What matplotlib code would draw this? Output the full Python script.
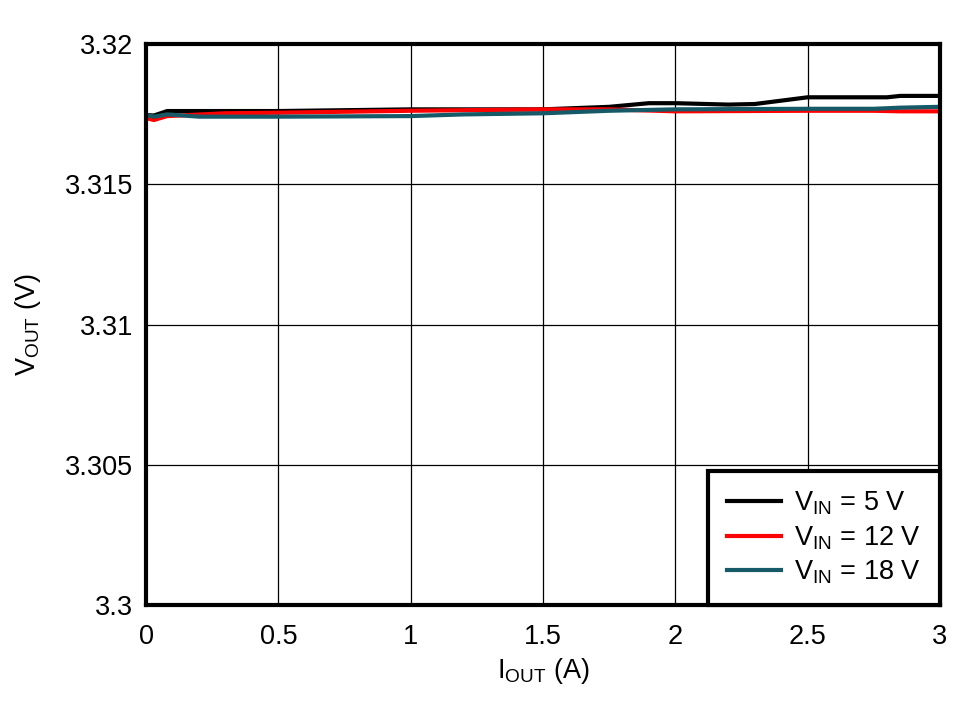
import numpy as np
import matplotlib
matplotlib.use("Agg")
import matplotlib.pyplot as plt

plt.rcParams['font.family'] = ['Liberation Sans', 'DejaVu Sans']
plt.rcParams['mathtext.fontset'] = 'custom'
plt.rcParams['mathtext.rm'] = 'Liberation Sans'
plt.rcParams['mathtext.it'] = 'Liberation Sans'

# output current (A) and output voltage (V)
i_5v = [0, 0.03, 0.08, 0.5, 1.0, 1.5, 1.75, 1.9, 2.0, 2.2, 2.3, 2.5, 2.8, 2.85, 3.0]
v_5v = [3.31747, 3.31745, 3.31761, 3.31761, 3.31767, 3.31767, 3.31776, 3.31789, 3.31789,
        3.31784, 3.31786, 3.31810, 3.31810, 3.31815, 3.31815]

i_12v = [0, 0.03, 0.08, 0.3, 0.5, 1.0, 1.5, 1.75, 2.0, 2.5, 2.75, 2.85, 3.0]
v_12v = [3.31736, 3.31729, 3.31743, 3.31753, 3.31755, 3.31762, 3.31767, 3.31767, 3.31760,
         3.31762, 3.31762, 3.31760, 3.31760]

i_18v = [0, 0.03, 0.08, 0.2, 0.5, 1.0, 1.2, 1.5, 1.75, 2.0, 2.5, 2.75, 2.85, 3.0]
v_18v = [3.31747, 3.31741, 3.31749, 3.31741, 3.31741, 3.31743, 3.31749, 3.31753, 3.31762,
         3.31767, 3.31769, 3.31769, 3.31773, 3.31776]

fs = 19.5

fig = plt.figure(figsize=(9.72, 7.01), dpi=100)
ax = fig.add_axes([146 / 972, 1 - 605 / 701, (940 - 146) / 972, (605 - 44) / 701])

ax.plot(i_5v, v_5v, color='black', lw=3, label=r'V$_{\mathrm{IN}}$ = 5 V')
ax.plot(i_12v, v_12v, color='#ff0000', lw=3, label=r'V$_{\mathrm{IN}}$ = 12 V')
ax.plot(i_18v, v_18v, color='#165a68', lw=3, label=r'V$_{\mathrm{IN}}$ = 18 V')

ax.set_xlim(0, 3)
ax.set_ylim(3.3, 3.32)
ax.set_xticks([0, 0.5, 1, 1.5, 2, 2.5, 3])
ax.set_xticklabels(['0', '0.5', '1', '1.5', '2', '2.5', '3'])
ax.set_yticks([3.3, 3.305, 3.31, 3.315, 3.32])
ax.set_yticklabels(['3.3', '3.305', '3.31', '3.315', '3.32'])
ax.tick_params(length=0, labelsize=fs)
ax.tick_params(axis='x', pad=14)
ax.tick_params(axis='y', pad=9)
ax.grid(True, color='black', lw=0.9)
for s in ax.spines.values():
    s.set_linewidth(3)

ax.set_xlabel(r'I$_{\mathrm{OUT}}$ (A)', fontsize=fs, labelpad=4)
ax.set_ylabel(r'V$_{\mathrm{OUT}}$ (V)', fontsize=fs, labelpad=16)

leg = ax.legend(loc='lower right', fontsize=fs, frameon=True, fancybox=False,
                framealpha=1, borderaxespad=0, handlelength=2.0, handletextpad=0.5,
                labelspacing=0.26, borderpad=0.7)
leg.get_frame().set_edgecolor('black')
leg.get_frame().set_linewidth(3)

fig.savefig('out.png', dpi=100)
